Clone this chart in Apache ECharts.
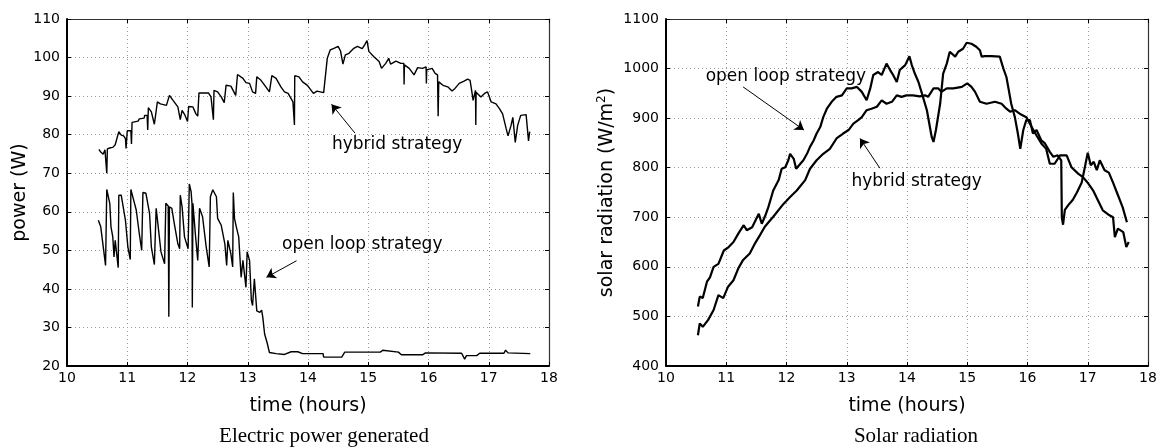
<!DOCTYPE html>
<html>
<head>
<meta charset="utf-8">
<script src="https://cdn.jsdelivr.net/npm/echarts@6/dist/echarts.min.js"></script>
<style>
  html, body { margin: 0; padding: 0; background: #fff; }
  #main { width: 1167px; height: 447px; }
</style>
</head>
<body>
<div id="main"></div>
<script>
// time ticks (hours) shared by both panels
var timeTicks = [10, 11, 12, 13, 14, 15, 16, 17, 18];
var powerTicks = [20, 30, 40, 50, 60, 70, 80, 90, 100, 110];
var radiationTicks = [400, 500, 600, 700, 800, 900, 1000, 1100];

// left panel: electric power (W) vs time (h)
var powerHybrid = [
  [10.53,76.2],[10.56,75.5],[10.60,74.9],[10.63,76.1],[10.66,70],[10.67,76.3],[10.72,76.6],[10.76,76.7],
  [10.80,77.4],[10.82,77.6],[10.86,80.8],[10.90,79.9],[10.94,79.7],[10.97,79.0],[10.98,76.4],[11.0,81.0],
  [11.06,81.0],[11.07,77.6],[11.08,83.2],[11.18,83.5],[11.20,84.1],[11.28,84.3],[11.29,85],[11.33,85],
  [11.34,81.2],[11.35,87],[11.40,85.9],[11.45,82.7],[11.48,83.2],[11.50,88.5],[11.55,88.0],[11.65,87.6],
  [11.70,90.2],[11.76,88.9],[11.84,87.2],[11.88,83.9],[11.91,86.3],[11.96,85.0],[12.0,83.4],[12.02,87.3],
  [12.09,87.2],[12.14,85.4],[12.17,84.8],[12.19,90.8],[12.35,90.8],[12.39,89.8],[12.42,89.5],[12.43,83.9],
  [12.44,91.5],[12.50,91.1],[12.56,89.8],[12.61,88.3],[12.64,92.8],[12.72,92.6],[12.80,90.2],[12.83,95.6],
  [12.92,94.6],[12.97,93.5],[13.03,93.3],[13.08,91.1],[13.13,90.7],[13.15,95.0],[13.22,94.1],[13.30,92.4],
  [13.36,91.1],[13.40,95.3],[13.47,94.6],[13.55,92.4],[13.61,91.1],[13.67,90.7],[13.75,88.5],[13.77,88.0],
  [13.775,82.5],[13.78,95.3],[13.85,95.0],[13.91,93.7],[13.99,92.8],[14.09,90.7],[14.15,91.3],[14.26,90.9],
  [14.29,91.1],[14.32,99.8],[14.37,102.0],[14.43,102.4],[14.50,102.9],[14.54,101.7],[14.58,98.3],[14.62,100.7],
  [14.68,101.1],[14.76,102.4],[14.82,102.9],[14.90,102.3],[14.94,103.3],[14.98,104.4],[15.01,101.6],[15.09,100.3],
  [15.18,99.0],[15.22,97.2],[15.29,98.5],[15.34,99.8],[15.37,98.3],[15.46,99.1],[15.54,98.5],[15.59,98.5],
  [15.595,93.0],[15.60,98.1],[15.68,97.2],[15.76,95.5],[15.82,97.4],[15.90,97.2],[15.96,97.6],[15.965,93.3],
  [15.97,96.8],[16.06,97.2],[16.11,95.9],[16.15,95.5],[16.16,84.8],[16.17,93.7],[16.24,92.8],[16.32,92.4],
  [16.39,91.3],[16.44,92.0],[16.51,93.3],[16.59,93.9],[16.65,94.4],[16.69,94.1],[16.72,91.1],[16.74,88.9],
  [16.78,91.5],[16.785,82.5],[16.79,91.0],[16.82,90.7],[16.87,89.8],[16.93,90.7],[16.98,91.1],[17.04,88.5],
  [17.12,88.0],[17.18,86.7],[17.23,85.4],[17.29,81.5],[17.32,79.7],[17.37,82.4],[17.40,84.5],[17.44,78.0],
  [17.48,82.4],[17.53,85.0],[17.62,85.2],[17.66,78.4],[17.68,80.8]
];

var powerOpenLoop = [
  [10.52,57.8],[10.56,56.1],[10.64,46.1],[10.66,65.8],[10.71,62.2],[10.73,56.1],[10.76,53.5],[10.78,48.3],
  [10.80,52.6],[10.85,45.5],[10.86,64.3],[10.90,64.3],[10.97,57.8],[11.01,50.9],[11.05,47.6],[11.06,65.8],
  [11.08,65.7],[11.15,60.4],[11.20,54.3],[11.24,50.0],[11.26,65.0],[11.31,64.8],[11.37,59.6],[11.40,50.9],
  [11.45,46.3],[11.48,60.9],[11.51,60.4],[11.56,49.6],[11.62,46.5],[11.64,62.2],[11.66,61.7],[11.68,61.5],
  [11.69,32.8],[11.70,61.3],[11.74,60.9],[11.78,57.0],[11.84,51.7],[11.87,50.4],[11.88,64.3],[11.91,61.3],
  [11.95,53.5],[12.01,50.4],[12.03,67.2],[12.06,65.2],[12.075,62],[12.08,35.2],[12.09,62.2],[12.13,54.3],
  [12.17,47.4],[12.20,60.9],[12.25,58.7],[12.31,50.9],[12.36,45.7],[12.38,63.9],[12.42,65.7],[12.48,63.9],
  [12.50,58.3],[12.56,56.5],[12.62,51.7],[12.65,46.1],[12.67,52.6],[12.72,49.1],[12.75,45.7],[12.76,65.0],
  [12.78,58.3],[12.81,56.1],[12.85,53.5],[12.89,43.0],[12.92,47.4],[12.97,40.4],[12.99,49.6],[13.03,47.4],
  [13.06,37.0],[13.08,35.7],[13.11,42.6],[13.14,42.6],[13.15,34.3],[13.20,33.9],[13.23,34.5],[13.25,32.6],
  [13.28,28.3],[13.32,26.1],[13.36,23.5],[13.47,23.2],[13.61,23.0],[13.72,23.7],[13.83,23.7],[13.91,23.2],
  [14.25,23.2],[14.26,22.3],[14.56,22.3],[14.61,23.6],[15.2,23.6],[15.24,24.1],[15.26,23.6],[15.5,23.6],
  [15.55,22.9],[15.9,22.9],[15.95,23.4],[16.55,23.3],[16.6,21.8],[16.63,22.7],[16.8,22.7],[16.85,23.3],
  [17.25,23.3],[17.28,24.1],[17.32,23.4],[17.69,23.2]
];

// right panel: solar radiation (W/m2) vs time (h)
var radiationOpenLoop = [
  [10.53,520],[10.56,540],[10.61,537],[10.68,570],[10.73,579],[10.79,600],[10.87,606],[10.96,633],
  [11.04,640],[11.12,650],[11.20,667],[11.29,684],[11.34,674],[11.43,680],[11.54,707],[11.59,687],
  [11.65,704],[11.70,721],[11.78,754],[11.87,775],[11.92,798],[11.98,801],[12.03,815],[12.06,828],
  [12.12,818],[12.16,798],[12.23,808],[12.28,815],[12.34,828],[12.39,842],[12.45,855],[12.50,869],
  [12.56,882],[12.61,902],[12.67,919],[12.75,933],[12.83,943],[12.92,946],[13.0,960],[13.08,960],
  [13.17,963],[13.25,953],[13.33,936],[13.39,960],[13.44,987],[13.52,993],[13.58,987],[13.66,1010],
  [13.72,997],[13.77,987],[13.83,973],[13.88,997],[13.97,1007],[14.04,1025],[14.08,1007],[14.13,990],
  [14.19,973],[14.24,953],[14.33,916],[14.41,862],[14.44,852],[14.48,876],[14.55,929],[14.60,990],
  [14.66,1010],[14.71,1034],[14.80,1024],[14.85,1034],[14.93,1040],[14.99,1052],[15.07,1050],[15.15,1044],
  [15.21,1037],[15.24,1024],[15.29,1025],[15.40,1025],[15.54,1024],[15.60,1000],[15.65,983],[15.68,963],
  [15.73,929],[15.79,902],[15.84,869],[15.88,838],[15.93,876],[15.98,896],[16.04,896],[16.09,869],
  [16.15,876],[16.23,855],[16.29,849],[16.37,832],[16.43,822],[16.50,825],[16.56,815],[16.57,700],
  [16.59,685],[16.62,715],[16.68,725],[16.75,735],[16.82,750],[16.90,770],[16.95,800],[17.0,830],
  [17.05,805],[17.10,812],[17.15,795],[17.20,815],[17.28,795],[17.35,790],[17.42,770],[17.50,745],
  [17.58,720],[17.65,690]
];

var radiationHybrid = [
  [10.53,462],[10.56,486],[10.61,479],[10.70,493],[10.79,513],[10.87,543],[10.95,537],[11.03,560],
  [11.12,573],[11.20,597],[11.28,614],[11.39,627],[11.48,648],[11.56,664],[11.64,681],[11.73,694],
  [11.78,701],[11.95,727],[12.06,741],[12.17,754],[12.31,775],[12.39,798],[12.50,815],[12.61,828],
  [12.72,838],[12.83,859],[12.94,869],[13.03,876],[13.11,889],[13.19,896],[13.25,902],[13.33,916],
  [13.41,919],[13.50,923],[13.58,936],[13.66,929],[13.75,933],[13.83,946],[13.91,943],[13.99,946],
  [14.10,946],[14.21,944],[14.30,946],[14.35,943],[14.44,960],[14.52,960],[14.57,953],[14.66,960],
  [14.77,960],[14.91,963],[15.0,970],[15.07,963],[15.13,953],[15.21,933],[15.32,929],[15.46,933],
  [15.57,929],[15.65,919],[15.71,913],[15.79,916],[15.87,909],[15.98,902],[16.07,882],[16.15,865],
  [16.23,849],[16.31,838],[16.37,808],[16.45,808],[16.54,825],[16.65,825],[16.73,801],[16.84,788],
  [16.92,781],[17.01,768],[17.09,754],[17.17,734],[17.25,714],[17.36,704],[17.42,700],[17.45,660],
  [17.50,677],[17.59,670],[17.64,640],[17.68,650]
];

// annotation anchors, in data units: [text pos, arrow tail, arrow head]
var notePowerHybrid = [[15.48, 77.3], [14.78, 80.4], [14.39, 87.9]];
var notePowerOpen = [[14.90, 51.4], [13.81, 47.3], [13.31, 43.0]];
var noteRadOpen = [[11.99, 983], [11.28, 963], [12.29, 876]];
var noteRadHybrid = [[14.16, 773], [13.55, 799], [13.22, 859]];

var chartDom = document.getElementById('main');
var myChart = echarts.init(chartDom);
var option;

var sans = 'DejaVu Sans';

function note(n, text) {
  return {
    markLine: {
      silent: true,
      animation: false,
      symbol: ['none', 'arrow'],
      symbolSize: 9,
      label: { show: false },
      itemStyle: { color: '#000' },
      lineStyle: { color: '#000', width: 1, type: 'solid' },
      emphasis: { disabled: true },
      data: [[{ coord: n[1] }, { coord: n[2] }]]
    },
    markPoint: {
      silent: true,
      animation: false,
      symbol: 'circle',
      symbolSize: 1,
      itemStyle: { color: 'rgba(0,0,0,0)' },
      label: {
        show: true,
        position: 'inside',
        formatter: text,
        color: '#000',
        fontFamily: sans,
        fontSize: 17
      },
      data: [{ coord: n[0] }]
    }
  };
}

function mainX(grid) {
  return {
    type: 'value',
    gridIndex: grid,
    min: timeTicks[0],
    max: timeTicks[timeTicks.length - 1],
    interval: 1,
    name: 'time (hours)',
    nameLocation: 'middle',
    nameGap: 31,
    nameTextStyle: { color: '#000', fontFamily: sans, fontSize: 19 },
    axisLine: { onZero: false, lineStyle: { color: '#000', width: 2 } },
    axisTick: { inside: true, length: 4, lineStyle: { color: '#000' } },
    axisLabel: { color: '#000', fontFamily: sans, fontSize: 14, margin: 5 },
    splitLine: { show: true, lineStyle: { color: '#999', type: [1, 3] } }
  };
}

function topX(grid) {
  return {
    type: 'value',
    gridIndex: grid,
    position: 'top',
    min: timeTicks[0],
    max: timeTicks[timeTicks.length - 1],
    interval: 1,
    axisLine: { onZero: false, lineStyle: { color: '#333', width: 1.2 } },
    axisTick: { inside: true, length: 4, lineStyle: { color: '#000' } },
    axisLabel: { show: false },
    splitLine: { show: false }
  };
}

function mainY(grid, ticks, name, gap) {
  return {
    type: 'value',
    gridIndex: grid,
    min: ticks[0],
    max: ticks[ticks.length - 1],
    interval: ticks[1] - ticks[0],
    name: name,
    nameLocation: 'middle',
    nameGap: gap,
    nameTextStyle: {
      color: '#000', fontFamily: sans, fontSize: 19,
      rich: { sup: { fontFamily: sans, fontSize: 12, verticalAlign: 'top', padding: [0, 0, 10, 0] } }
    },
    axisLine: { onZero: false, lineStyle: { color: '#000', width: 2 } },
    axisTick: { inside: true, length: 4, lineStyle: { color: '#000' } },
    axisLabel: {
      color: '#000', fontFamily: sans, fontSize: 14, margin: 7,
      formatter: function (v) { return String(v); }
    },
    splitLine: { show: true, lineStyle: { color: '#999', type: [1, 3] } }
  };
}

function rightY(grid, ticks) {
  return {
    type: 'value',
    gridIndex: grid,
    position: 'right',
    min: ticks[0],
    max: ticks[ticks.length - 1],
    interval: ticks[1] - ticks[0],
    axisLine: { onZero: false, lineStyle: { color: '#333', width: 1.2 } },
    axisTick: { inside: true, length: 4, lineStyle: { color: '#000' } },
    axisLabel: { show: false },
    splitLine: { show: false }
  };
}

function line(data, xi, yi, width, extra) {
  var s = {
    type: 'line',
    xAxisIndex: xi,
    yAxisIndex: yi,
    data: data,
    showSymbol: false,
    symbol: 'none',
    animation: false,
    lineStyle: { color: '#000', width: width },
    emphasis: { disabled: true }
  };
  return Object.assign(s, extra || {});
}

option = {
  backgroundColor: '#fff',
  grid: [
    { left: 67, top: 19, width: 482, height: 347 },
    { left: 666, top: 19, width: 482, height: 347 }
  ],
  xAxis: [mainX(0), topX(0), mainX(1), topX(1)],
  yAxis: [
    mainY(0, powerTicks, 'power (W)', 37),
    rightY(0, powerTicks),
    mainY(1, radiationTicks, 'solar radiation (W/m{sup|2})', 48),
    rightY(1, radiationTicks)
  ],
  graphic: [
    {
      type: 'text', x: 324, y: 436,
      style: { text: 'Electric power generated', fill: '#000', font: '21px "Liberation Serif"', align: 'center', verticalAlign: 'middle' }
    },
    {
      type: 'text', x: 916, y: 436,
      style: { text: 'Solar radiation', fill: '#000', font: '21px "Liberation Serif"', align: 'center', verticalAlign: 'middle' }
    }
  ],
  series: [
    line(powerHybrid, 0, 0, 1.4, note(notePowerHybrid, 'hybrid strategy')),
    line(powerOpenLoop, 0, 0, 1.4, note(notePowerOpen, 'open loop strategy')),
    line(radiationOpenLoop, 2, 2, 2.2, note(noteRadOpen, 'open loop strategy')),
    line(radiationHybrid, 2, 2, 2.2, note(noteRadHybrid, 'hybrid strategy'))
  ]
};

option && myChart.setOption(option);
</script>
</body>
</html>
